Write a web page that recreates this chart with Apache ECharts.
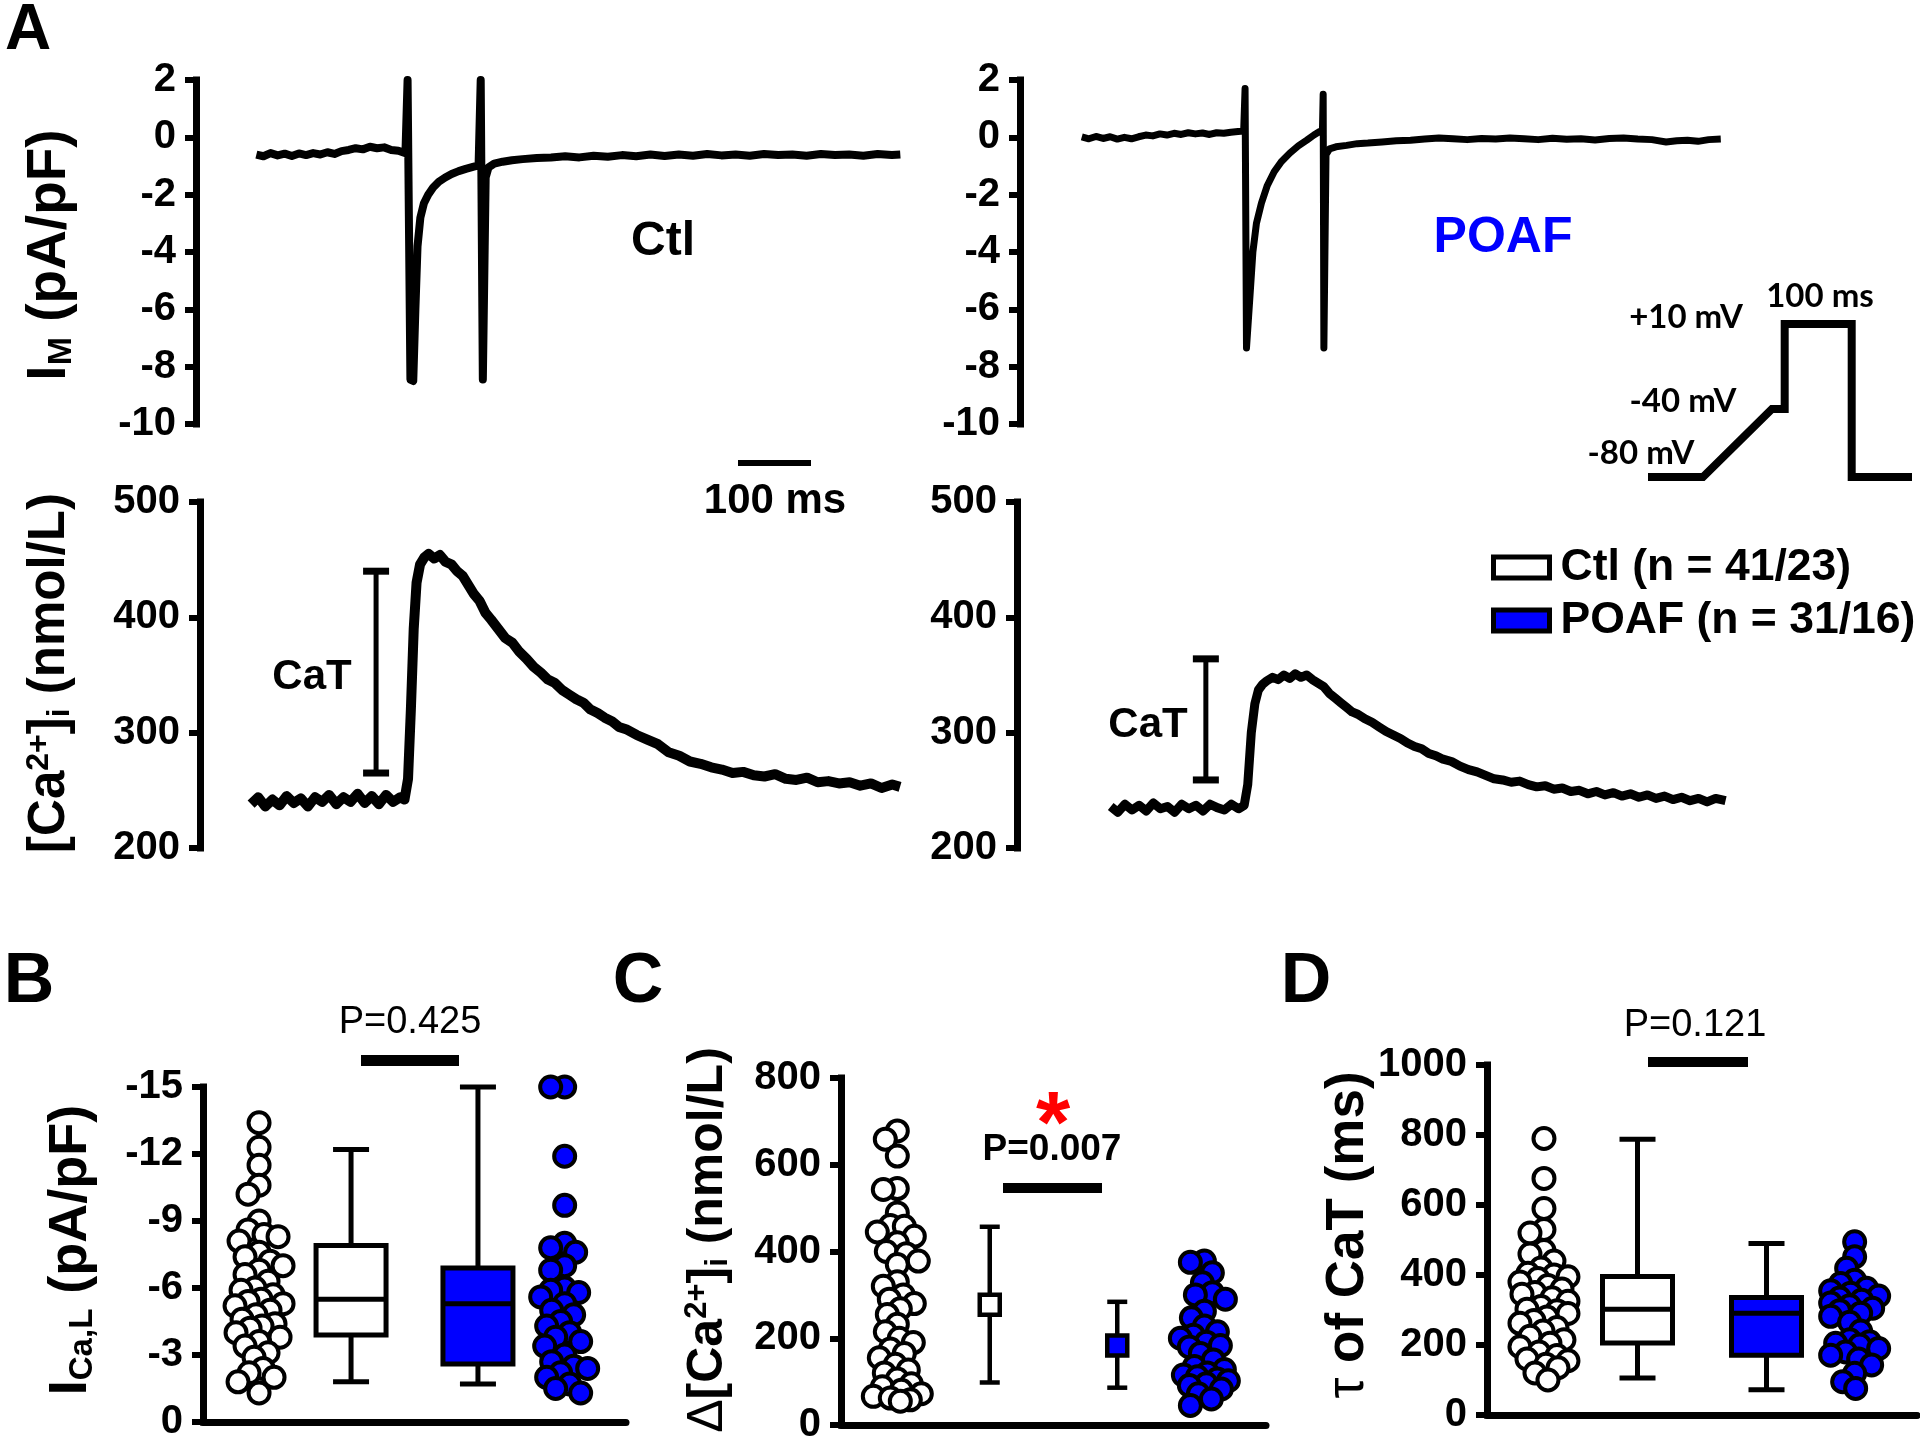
<!DOCTYPE html>
<html><head><meta charset="utf-8">
<script src="https://cdn.jsdelivr.net/npm/echarts@6/dist/echarts.min.js"></script>
<style>html,body{margin:0;padding:0;background:#fff}#c{width:1920px;height:1441px}</style>
</head><body><div id="c"></div>
<script>
// ---------------- DATA ----------------
// Panel A: membrane current traces [time ms, pA/pF]
const ctlCurrent = [[85,-0.6],[95,-0.66],[105,-0.55],[115,-0.63],[125,-0.57],[135,-0.65],[145,-0.56],[155,-0.62],[165,-0.55],[175,-0.6],[185,-0.52],[195,-0.58],[205,-0.48],[215,-0.44],[225,-0.38],[235,-0.42],[245,-0.33],[255,-0.38],[265,-0.35],[275,-0.44],[285,-0.47],[295,-0.55],[298,2.0],[300,2.0],[302,-8.45],[306,-8.5],[309,-6.0],[312,-3.8],[316,-2.8],[321,-2.3],[327,-2.0],[334,-1.75],[342,-1.55],[351,-1.4],[360,-1.28],[370,-1.18],[380,-1.1],[390,-1.03],[398,-0.98],[401,2.0],[403,2.0],[404,-8.45],[406,-8.45],[408,-1.4],[412,-1.05],[420,-0.92],[432,-0.85],[445,-0.8],[460,-0.76],[480,-0.72],[500,-0.7],[520,-0.66],[540,-0.7],[560,-0.64],[580,-0.68],[600,-0.62],[620,-0.66],[640,-0.6],[660,-0.65],[680,-0.6],[700,-0.64],[720,-0.58],[740,-0.63],[760,-0.6],[780,-0.64],[800,-0.58],[820,-0.62],[840,-0.6],[860,-0.64],[880,-0.58],[900,-0.62],[920,-0.6],[940,-0.64],[960,-0.58],[980,-0.62],[992,-0.6]];
const poafCurrent = [[87,0.02],[97,-0.05],[107,0.03],[117,-0.04],[127,0.02],[137,-0.06],[147,0.0],[157,-0.05],[167,0.02],[177,0.08],[187,0.05],[197,0.12],[207,0.08],[217,0.14],[227,0.1],[237,0.16],[247,0.12],[257,0.15],[267,0.1],[277,0.16],[287,0.14],[297,0.18],[307,0.2],[315,0.22],[317,1.7],[319,-7.35],[321,-7.35],[324,-5.5],[328,-4.0],[333,-3.0],[340,-2.3],[348,-1.7],[358,-1.2],[368,-0.85],[380,-0.55],[392,-0.3],[404,-0.1],[414,0.08],[422,0.2],[426,0.25],[427,1.5],[428,-7.35],[430,-7.35],[431,-0.6],[436,-0.4],[445,-0.33],[460,-0.28],[475,-0.22],[490,-0.2],[510,-0.16],[530,-0.12],[550,-0.1],[570,-0.06],[590,-0.02],[610,-0.05],[630,-0.08],[650,-0.04],[670,-0.06],[690,-0.02],[710,-0.05],[730,-0.08],[750,-0.03],[770,-0.07],[790,-0.05],[810,-0.09],[830,-0.04],[850,-0.02],[870,-0.06],[890,-0.08],[910,-0.16],[925,-0.12],[940,-0.1],[955,-0.14],[970,-0.08],[987,-0.06]];
// Panel A: Ca2+ transients [time ms, nmol/L]
const ctlCalcium = [[72,238],[82,244],[92,236],[102,242],[112,237],[122,245],[132,239],[142,243],[152,236],[162,244],[172,240],[182,246],[192,238],[202,244],[212,240],[222,247],[232,239],[242,245],[252,238],[262,246],[272,240],[282,244],[288,242],[293,260],[297,320],[301,390],[305,430],[310,446],[316,452],[322,455],[330,451],[338,454],[346,448],[354,446],[362,440],[370,436],[378,428],[386,420],[394,414],[402,404],[410,398],[420,390],[430,382],[440,378],[450,370],[460,364],[470,357],[480,352],[490,346],[500,343],[510,337],[520,333],[530,329],[540,326],[550,320],[560,317],[570,313],[580,310],[590,305],[600,303],[615,298],[630,294],[645,290],[660,283],[675,280],[690,275],[705,273],[720,270],[735,268],[750,265],[765,266],[780,263],[795,262],[810,264],[825,260],[840,259],[855,261],[870,257],[885,258],[900,256],[915,257],[930,254],[945,256],[960,252],[975,255],[986,253]];
const poafCalcium = [[132,236],[142,231],[152,238],[162,233],[172,237],[182,232],[192,239],[202,234],[212,236],[222,231],[232,238],[242,234],[252,237],[262,232],[272,238],[282,235],[292,233],[302,238],[312,234],[320,237],[325,255],[330,300],[335,325],[340,337],[346,342],[352,345],[360,348],[368,346],[376,350],[384,347],[392,351],[400,348],[408,350],[416,346],[424,343],[432,340],[440,334],[448,330],[456,326],[464,322],[472,318],[480,316],[490,312],[500,309],[510,305],[520,301],[530,298],[540,295],[550,291],[560,288],[570,286],[580,282],[590,280],[600,277],[612,275],[624,271],[636,268],[648,266],[660,263],[672,260],[684,259],[696,257],[708,258],[720,255],[732,253],[744,254],[756,251],[768,252],[780,249],[792,250],[804,247],[816,249],[828,246],[840,248],[852,245],[864,247],[876,244],[888,246],[900,243],[912,245],[924,242],[936,244],[948,241],[960,243],[972,240],[984,243],[998,241]];
// CaT amplitude bars [time ms, low, high]
const ctlCaTBar = [248, 265, 440];
const poafCaTBar = [266, 259, 364];
// Voltage protocol [time ms, mV]
const protocolStep = [[0,-80],[82,-80],[185,-40],[204,-40],[204,10],[304,10],[304,-80],[394,-80]];

// Panel B: I_Ca,L (pA/pF)
const ctlIcaDots = [-13.4,-12.3,-11.5,-10.6,-10.2,-9.0,-8.6,-8.4,-8.3,-8.1,-7.6,-7.4,-7.2,-7.0,-6.8,-6.6,-6.3,-6.0,-5.9,-5.7,-5.5,-5.4,-5.3,-5.2,-5.0,-4.8,-4.6,-4.4,-4.3,-4.2,-4.0,-3.8,-3.6,-3.4,-3.1,-2.9,-2.4,-2.2,-2.0,-1.8,-1.3];
const poafIcaDots = [-15.0,-15.0,-11.9,-9.7,-8.0,-7.8,-7.6,-7.0,-6.8,-6.0,-5.9,-5.8,-5.6,-5.3,-5.0,-4.8,-4.5,-4.3,-4.0,-3.8,-3.6,-3.4,-3.0,-2.7,-2.5,-2.4,-2.2,-2.0,-1.7,-1.5,-1.3];
const ctlIcaBox = [-1.8, -3.9, -5.5, -7.9, -12.2];   // min, Q1, median, Q3, max
const poafIcaBox = [-1.7, -2.6, -5.3, -6.9, -15.0];
// Panel C: delta [Ca2+]i (nmol/L)
const ctlDeltaCaDots = [678,659,620,545,543,489,460,458,445,435,420,400,395,378,370,330,320,300,290,280,268,255,232,215,200,190,175,165,155,140,127,120,106,95,88,80,72,66,62,58,55];
const poafDeltaCaDots = [378,375,351,328,305,300,290,262,247,228,215,207,200,191,183,180,165,150,135,128,120,115,111,106,102,95,91,83,72,60,45];
const ctlDeltaCaMeanSD = [98, 277, 457];   // mean-SD, mean, mean+SD
const poafDeltaCaMeanSD = [86, 183, 284];
// Panel D: tau of CaT (ms)
const ctlTauDots = [790,676,590,530,520,470,460,440,420,405,400,395,390,380,370,360,350,345,335,325,310,302,298,290,280,270,262,250,240,225,215,205,195,180,170,160,155,145,135,120,100];
const poafTauDots = [495,452,419,385,376,362,355,348,340,334,328,320,312,305,298,291,282,265,240,215,209,205,200,190,180,171,160,143,119,95,76];
const ctlTauBox = [106, 206, 302, 396, 788];
const poafTauBox = [72, 171, 291, 336, 490];

const ctlLegend = 'Ctl (n = 41/23)';
const poafLegend = 'POAF (n = 31/16)';
const pValues = ['P=0.425', 'P=0.007', 'P=0.121'];

// ---------------- LAYOUT ----------------
const FONT = "'Liberation Sans', Arial, Helvetica, sans-serif";
const BLUE = '#0000ff';
const grids = [
  {left:196, top:80, width:710, height:344},    // 0 IM Ctl
  {left:1020, top:80, width:710, height:344},   // 1 IM POAF
  {left:200, top:502, width:710, height:346},   // 2 Ca Ctl
  {left:1017, top:502, width:710, height:346},  // 3 Ca POAF
  {left:203, top:1087, width:423, height:335},  // 4 B
  {left:841, top:1078, width:425, height:347},  // 5 C
  {left:1487, top:1065, width:430, height:350}, // 6 D
  {left:1648, top:324, width:264, height:153}   // 7 protocol
];
const groupX = [0.53, 1.4, 2.6, 3.42];

function swarm(values, gi, yMin, yMax, inverse, gx) {
  const g = grids[gi];
  const pxPerUnit = g.width / 4;
  const MIN_SEP = 14, MAX_OFF = 24;
  const placed = [], out = [];
  values.forEach(v => {
    const frac = (v - yMin) / (yMax - yMin);
    const py = inverse ? g.top + frac * g.height : g.top + g.height - frac * g.height;
    let best = 0, bestScore = -1;
    for (let k = 0; k <= 2 * MAX_OFF; k++) {
      const off = (k % 2 === 0 ? 1 : -1) * Math.ceil(k / 2);
      let md = Infinity;
      for (const p of placed) { const d = Math.hypot(p[0] - off, p[1] - py); if (d < md) md = d; }
      if (md >= MIN_SEP) { best = off; break; }
      if (md > bestScore) { bestScore = md; best = off; }
    }
    placed.push([best, py]);
    out.push([gx + best / pxPerUnit, v]);
  });
  return out;
}

function yAx(gi, min, max, interval, extra) {
  return Object.assign({
    type:'value', gridIndex:gi, min, max, interval,
    axisLine:{show:true, onZero:false, lineStyle:{color:'#000', width:7, cap:'square'}},
    axisTick:{show:true, length:11, lineStyle:{color:'#000', width:6}},
    axisLabel:{color:'#000', fontFamily:FONT, fontWeight:'bold', fontSize:40, margin:20, formatter:v => String(v)},
    splitLine:{show:false}
  }, extra || {});
}
function xHidden(gi, max) {
  return {type:'value', gridIndex:gi, min:0, max, show:false, splitLine:{show:false}};
}
function xLine(gi) {
  return {type:'value', gridIndex:gi, min:0, max:4,
    axisLine:{show:true, onZero:false, lineStyle:{color:'#000', width:7}},
    axisTick:{show:false}, axisLabel:{show:false}, splitLine:{show:false}};
}
function trace(gi, data, w) {
  return {type:'line', xAxisIndex:gi, yAxisIndex:gi, data, showSymbol:false, symbol:'none',
    lineStyle:{color:'#000', width:w, join:'round'}, clip:true, silent:true};
}
function dots(gi, pts, fill) {
  return {type:'scatter', xAxisIndex:gi, yAxisIndex:gi, data:pts, symbol:'circle', symbolSize:21,
    itemStyle:{color:fill, borderColor:'#000', borderWidth:4, opacity:1}, silent:true, z:3};
}
function boxSeries(name, gi, x, stats, fill) {
  return {type:'custom', name, xAxisIndex:gi, yAxisIndex:gi, data:[[x].concat(stats)],
    encode:{x:0, y:[1,2,3,4,5]}, silent:true, itemStyle:{color:fill},
    renderItem(params, api) {
      const xv = api.value(0);
      const p = [1,2,3,4,5].map(i => api.coord([xv, api.value(i)]));
      const cx = p[0][0], hw = 35, cw = 18;
      const st = {stroke:'#000', lineWidth:5, fill:null};
      const top = Math.min(p[1][1], p[3][1]), bot = Math.max(p[1][1], p[3][1]);
      return {type:'group', children:[
        {type:'line', shape:{x1:cx, y1:p[0][1], x2:cx, y2:p[1][1]}, style:st},
        {type:'line', shape:{x1:cx, y1:p[3][1], x2:cx, y2:p[4][1]}, style:st},
        {type:'line', shape:{x1:cx-cw, y1:p[0][1], x2:cx+cw, y2:p[0][1]}, style:st},
        {type:'line', shape:{x1:cx-cw, y1:p[4][1], x2:cx+cw, y2:p[4][1]}, style:st},
        {type:'rect', shape:{x:cx-hw, y:top, width:2*hw, height:bot-top}, style:{fill, stroke:'#000', lineWidth:5}},
        {type:'line', shape:{x1:cx-hw, y1:p[2][1], x2:cx+hw, y2:p[2][1]}, style:st}
      ]};
    }};
}
function meanSDSeries(name, gi, x, stats, fill) {
  return {type:'custom', name, xAxisIndex:gi, yAxisIndex:gi, data:[[x].concat(stats)],
    encode:{x:0, y:[1,2,3]}, silent:true, itemStyle:{color:fill},
    renderItem(params, api) {
      const xv = api.value(0);
      const lo = api.coord([xv, api.value(1)]), m = api.coord([xv, api.value(2)]), hi = api.coord([xv, api.value(3)]);
      const cx = lo[0], cw = 10, s = 10;
      const st = {stroke:'#000', lineWidth:4.5, fill:null};
      return {type:'group', children:[
        {type:'line', shape:{x1:cx, y1:lo[1], x2:cx, y2:hi[1]}, style:st},
        {type:'line', shape:{x1:cx-cw, y1:lo[1], x2:cx+cw, y2:lo[1]}, style:st},
        {type:'line', shape:{x1:cx-cw, y1:hi[1], x2:cx+cw, y2:hi[1]}, style:st},
        {type:'rect', shape:{x:cx-s, y:m[1]-s, width:2*s, height:2*s}, style:{fill, stroke:'#000', lineWidth:4.5}}
      ]};
    }};
}
function errBar(gi, d) {
  return {type:'custom', xAxisIndex:gi, yAxisIndex:gi, data:[d], encode:{x:0, y:[1,2]}, silent:true,
    renderItem(params, api) {
      const lo = api.coord([api.value(0), api.value(1)]), hi = api.coord([api.value(0), api.value(2)]);
      const cw = 13;
      return {type:'group', children:[
        {type:'line', shape:{x1:lo[0], y1:lo[1], x2:hi[0], y2:hi[1]}, style:{stroke:'#000', lineWidth:5}},
        {type:'line', shape:{x1:lo[0]-cw, y1:lo[1], x2:lo[0]+cw, y2:lo[1]}, style:{stroke:'#000', lineWidth:7}},
        {type:'line', shape:{x1:hi[0]-cw, y1:hi[1], x2:hi[0]+cw, y2:hi[1]}, style:{stroke:'#000', lineWidth:7}}
      ]};
    }};
}

function txt(x, y, text, size, style, el) {
  return Object.assign({type:'text', x, y, silent:true,
    style:Object.assign({text, fontFamily:FONT, fontWeight:'bold', fontSize:size, fill:'#000', align:'center', verticalAlign:'middle'}, style || {})}, el || {});
}
function richSet(size) {
  const sub = Math.round(size * 0.62);
  return {
    n:{fontFamily:FONT, fontWeight:'bold', fontSize:size, fill:'#000'},
    g:{fontFamily:FONT, fontWeight:'normal', fontSize:size, fill:'#000'},
    sub:{fontFamily:FONT, fontWeight:'bold', fontSize:sub, fill:'#000', padding:[Math.round(size*0.42),0,0,0]},
    sup:{fontFamily:FONT, fontWeight:'bold', fontSize:sub, fill:'#000', padding:[0,0,Math.round(size*0.42),0]}
  };
}
function vLabel(x, y, text, size) {
  return {type:'text', x, y, rotation:Math.PI/2, silent:true,
    style:{text, align:'center', verticalAlign:'middle', fontFamily:FONT, fontWeight:'bold', fontSize:size, fill:'#000', rich:richSet(size)}};
}

const graphics = [
  txt(28, 31, 'A', 64), txt(29, 983, 'B', 70), txt(638, 983, 'C', 70), txt(1306, 983, 'D', 70),
  vLabel(50, 255, '{n|I}{sub|M}{n| (pA/pF)}', 55),
  vLabel(50, 673, '{n|[Ca}{sup|2+}{n|]}{sub|i}{n| (nmol/L)}', 51),
  vLabel(71, 1250, '{n|I}{sub|Ca,L}{n| (pA/pF)}', 54),
  vLabel(708, 1240, '{g|Δ}{n|[Ca}{sup|2+}{n|]}{sub|i}{n| (nmol/L)}', 50),
  vLabel(1348, 1235, '{g|τ}{n| of CaT (ms)}', 53),
  txt(663, 242, 'Ctl', 48),
  txt(1503, 238, 'POAF', 50, {fill:BLUE}),
  {type:'line', silent:true, shape:{x1:738, y1:463, x2:811, y2:463}, style:{stroke:'#000', lineWidth:6}},
  txt(775, 501, '100 ms', 42),
  txt(312, 677, 'CaT', 42), txt(1148, 725, 'CaT', 42),
  txt(1820, 296, '100 ms', 33, {fontFamily:'Lato'}),
  txt(1686, 317, '+10 mV', 33, {fontFamily:'Lato'}),
  txt(1683, 401, '-40 mV', 33, {fontFamily:'Lato'}),
  txt(1641, 453, '-80 mV', 33, {fontFamily:'Lato'}),
  {type:'rect', silent:true, shape:{x:361, y:1055, width:98, height:11}, style:{fill:'#000'}},
  txt(410, 1023, pValues[0], 38, {fontWeight:'normal'}),
  {type:'rect', silent:true, shape:{x:1003, y:1183, width:99, height:10}, style:{fill:'#000'}},
  txt(1052, 1150, pValues[1], 37),
  txt(1053, 1128, '*', 88, {fill:'#ff0000'}),
  {type:'rect', silent:true, shape:{x:1648, y:1057, width:100, height:10}, style:{fill:'#000'}},
  txt(1695, 1026, pValues[2], 38, {fontWeight:'normal'})
];

const option = {
  animation:false,
  backgroundColor:'#fff',
  grid: grids.map(g => Object.assign({outerBoundsMode:'none', containLabel:false}, g)),
  xAxis:[xHidden(0,1000), xHidden(1,1000), xHidden(2,1000), xHidden(3,1000), xLine(4), xLine(5), xLine(6), xHidden(7,394)],
  yAxis:[
    yAx(0,-10,2,2), yAx(1,-10,2,2), yAx(2,200,500,100), yAx(3,200,500,100),
    yAx(4,-15,0,3,{inverse:true}), yAx(5,0,800,200), yAx(6,0,1000,200),
    {type:'value', gridIndex:7, min:-80, max:10, show:false, splitLine:{show:false}}
  ],
  legend:{
    left:1486, top:540, orient:'vertical', itemWidth:56, itemHeight:21, itemGap:8, selectedMode:false,
    textStyle:{fontFamily:FONT, fontWeight:'bold', fontSize:44.5, color:'#000', padding:[0,0,0,6]},
    data:[
      {name:ctlLegend, icon:'rect', itemStyle:{color:'#fff', borderColor:'#000', borderWidth:5}},
      {name:poafLegend, icon:'rect', itemStyle:{color:BLUE, borderColor:'#000', borderWidth:5}}
    ]
  },
  series:[
    trace(0, ctlCurrent, 8), trace(1, poafCurrent, 7),
    trace(2, ctlCalcium, 10), trace(3, poafCalcium, 9),
    errBar(2, ctlCaTBar), errBar(3, poafCaTBar),
    {type:'line', xAxisIndex:7, yAxisIndex:7, data:protocolStep, showSymbol:false, symbol:'none', silent:true,
      lineStyle:{color:'#000', width:8, join:'miter', cap:'butt'}, clip:false},
    dots(4, swarm(ctlIcaDots, 4, -15, 0, true, groupX[0]), '#fff'),
    dots(4, swarm(poafIcaDots, 4, -15, 0, true, groupX[3]), BLUE),
    boxSeries(ctlLegend, 4, groupX[1], ctlIcaBox, '#fff'),
    boxSeries(poafLegend, 4, groupX[2], poafIcaBox, BLUE),
    dots(5, swarm(ctlDeltaCaDots, 5, 0, 800, false, groupX[0]), '#fff'),
    dots(5, swarm(poafDeltaCaDots, 5, 0, 800, false, groupX[3]), BLUE),
    meanSDSeries(ctlLegend, 5, groupX[1], ctlDeltaCaMeanSD, '#fff'),
    meanSDSeries(poafLegend, 5, groupX[2], poafDeltaCaMeanSD, BLUE),
    dots(6, swarm(ctlTauDots, 6, 0, 1000, false, groupX[0]), '#fff'),
    dots(6, swarm(poafTauDots, 6, 0, 1000, false, groupX[3]), BLUE),
    boxSeries(ctlLegend, 6, groupX[1], ctlTauBox, '#fff'),
    boxSeries(poafLegend, 6, groupX[2], poafTauBox, BLUE)
  ],
  graphic: graphics
};
const chart = echarts.init(document.getElementById('c'), null, {renderer:'canvas'});
chart.setOption(option);
</script></body></html>
